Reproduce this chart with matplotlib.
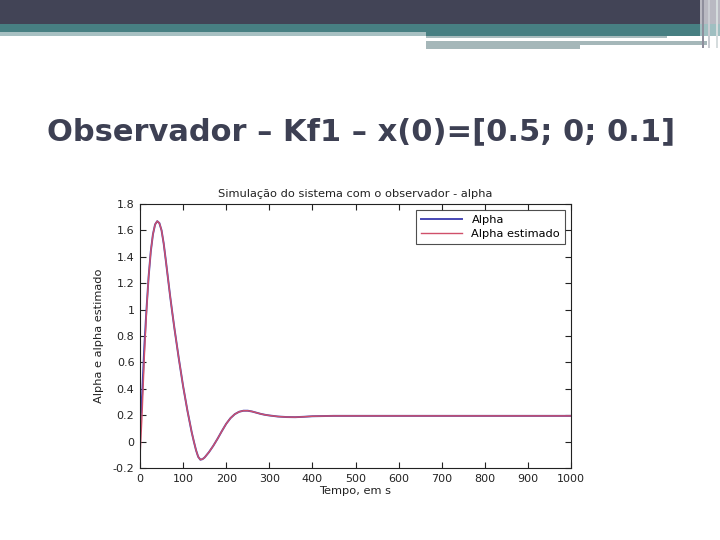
import matplotlib
matplotlib.use("Agg")
import matplotlib.pyplot as plt
from matplotlib.patches import Rectangle

# ---- data ----
t = [0, 5, 10, 15, 20, 25, 30, 35, 40, 45, 50, 55, 60, 65, 70, 75, 80, 90, 100,
     110, 120, 125, 130, 135, 140, 145, 150, 160, 170, 180, 190, 200, 210, 220,
     230, 240, 250, 260, 270, 280, 290, 300, 320, 340, 360, 380, 400, 450, 500,
     600, 700, 800, 900, 1000]
alpha = [0.10, 0.36, 0.72, 1.00, 1.25, 1.44, 1.57, 1.645, 1.67, 1.655, 1.60,
         1.50, 1.37, 1.235, 1.10, 0.975, 0.855, 0.63, 0.42, 0.235, 0.07, 0.0,
         -0.065, -0.115, -0.137, -0.133, -0.12, -0.08, -0.032, 0.022, 0.08,
         0.135, 0.178, 0.208, 0.226, 0.234, 0.234, 0.228, 0.219, 0.21, 0.203,
         0.198, 0.19, 0.186, 0.185, 0.188, 0.192, 0.195, 0.195, 0.195, 0.195,
         0.195, 0.195, 0.195]
alpha_est = [-0.12, 0.22, 0.64, 0.98, 1.25, 1.44, 1.57, 1.645, 1.67, 1.655, 1.60,
             1.50, 1.37, 1.235, 1.10, 0.975, 0.855, 0.63, 0.42, 0.235, 0.07,
             0.0, -0.065, -0.115, -0.137, -0.133, -0.12, -0.08, -0.032, 0.022,
             0.08, 0.135, 0.178, 0.208, 0.226, 0.234, 0.234, 0.228, 0.219, 0.21,
             0.203, 0.198, 0.19, 0.186, 0.185, 0.188, 0.192, 0.195, 0.195, 0.195,
             0.195, 0.195, 0.195, 0.195]
series_labels = ["Alpha", "Alpha estimado"]
xticks = [0, 100, 200, 300, 400, 500, 600, 700, 800, 900, 1000]
yticks = [-0.2, 0, 0.2, 0.4, 0.6, 0.8, 1.0, 1.2, 1.4, 1.6, 1.8]
ytick_labels = ["-0.2", "0", "0.2", "0.4", "0.6", "0.8", "1", "1.2", "1.4", "1.6", "1.8"]
slide_title = "Observador \u2013 Kf1 \u2013 x(0)=[0.5; 0; 0.1]"
chart_title = "Simula\u00e7\u00e3o do sistema com o observador - alpha"
xlabel = "Tempo, em s"
ylabel = "Alpha e alpha estimado"

W, H = 720, 540
fig = plt.figure(figsize=(7.2, 5.4), dpi=100)
fig.patch.set_facecolor("white")

# ---- slide header decoration (pixel coordinates via a full-figure axes) ----
bg = fig.add_axes([0, 0, 1, 1])
bg.set_xlim(0, W)
bg.set_ylim(H, 0)
bg.axis("off")
def rect(x0, y0, x1, y1, c):
    bg.add_patch(Rectangle((x0, y0), x1 - x0, y1 - y0, color=c, lw=0))
rect(0, 0, 700, 24, "#424456")
rect(0, 24, 700, 32, "#477f82")
rect(426, 32, 700, 36, "#477f82")
rect(0, 32, 426, 36, "#a7c0c2")
rect(426, 36, 667, 38, "#a9bcbe")
rect(426, 41, 707, 45, "#a5b7b9")
rect(426, 45, 580, 49, "#a5b7b9")
rect(700, 0, 720, 24, "#b9b9c2")
rect(700, 24, 720, 36, "#9fbfc1")
rect(702, 0, 704, 48, "#8e8e9c")
rect(708, 0, 710, 48, "#c9ccd2")
rect(716, 0, 718, 48, "#d5dcdd")

bg.text(361, 132, slide_title, ha="center", va="center", fontsize=22,
        fontweight="heavy", family="DejaVu Sans", color="#3d4053")

# ---- chart ----
ax = fig.add_axes([140 / W, 1 - 468 / H, (571 - 140) / W, (468 - 204) / H])
ax.plot(t, alpha, color="#4848b4", lw=1.4, label=series_labels[0])
ax.plot(t, alpha_est, color="#d0506a", lw=1.0, label=series_labels[1])
ax.set_xlim(0, 1000)
ax.set_ylim(-0.2, 1.8)
ax.set_xticks(xticks)
ax.set_yticks(yticks)
ax.set_yticklabels(ytick_labels)
ax.tick_params(direction="in", top=True, right=True, length=4, width=0.8,
               labelsize=8, pad=4, colors="#222222")
for s in ax.spines.values():
    s.set_linewidth(0.8)
    s.set_color("#222222")
ax.set_title(chart_title, fontsize=8.2, pad=5, color="#222222")
ax.set_xlabel(xlabel, fontsize=8.2, labelpad=2, color="#222222")
ax.set_ylabel(ylabel, fontsize=8.2, labelpad=6, color="#222222")
leg = ax.legend(loc="upper right", fontsize=8.2, frameon=True, fancybox=False,
                edgecolor="#222222", borderaxespad=0.5, handlelength=3.6,
                labelspacing=0.35, borderpad=0.45)
leg.get_frame().set_linewidth(0.8)

fig.savefig("out.png", dpi=100, facecolor="white")
